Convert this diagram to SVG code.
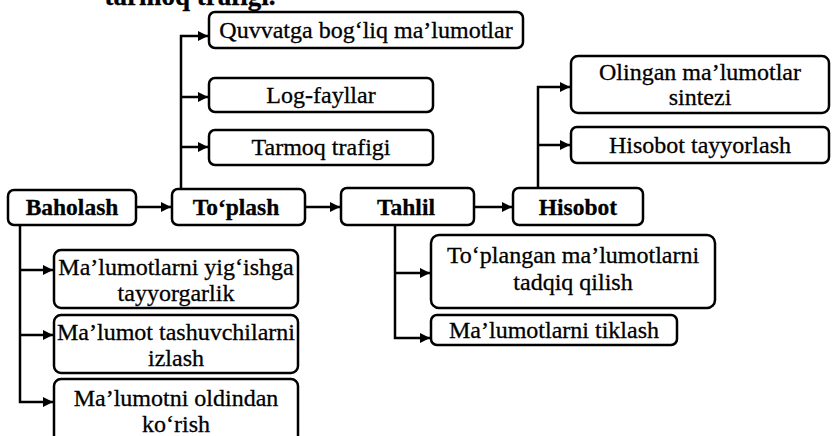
<svg xmlns="http://www.w3.org/2000/svg" width="832" height="436" viewBox="0 0 832 436">
  <style>
    .box { fill: #fff; stroke: #000; stroke-width: 2.5; }
    .t { font-family: "Liberation Serif", "Times New Roman", serif; font-size: 24px; fill: #000; stroke: #000; stroke-width: 0.3; text-anchor: middle; }
    .b { font-weight: bold; font-size: 23.5px; }
    .edge { fill: none; stroke: #000; stroke-width: 2.5; }
  </style>
  <defs>
    <marker id="arr" viewBox="0 0 10 10" refX="10" refY="5" markerWidth="4.2" markerHeight="4" orient="auto" markerUnits="strokeWidth">
      <path d="M0,0 L10,5 L0,10 z" fill="#000"/>
    </marker>
  </defs>
  <rect width="832" height="436" fill="#fff"/>

  <!-- heading line running off the top edge -->
  <text class="t b" x="190" y="5" style="font-size:27px">tarmoq trafigi.</text>

  <g id="connectors">
    <!-- main chain -->
    <path class="edge" d="M136,207 H171" marker-end="url(#arr)"/>
    <path class="edge" d="M305,207 H340" marker-end="url(#arr)"/>
    <path class="edge" d="M474,207 H512" marker-end="url(#arr)"/>
    <!-- To'plash branch -->
    <path class="edge" d="M181,190 V36 H208" marker-end="url(#arr)"/>
    <path class="edge" d="M181,97 H208" marker-end="url(#arr)"/>
    <path class="edge" d="M181,147 H208" marker-end="url(#arr)"/>
    <!-- Hisobot branch -->
    <path class="edge" d="M538,188 V87 H570" marker-end="url(#arr)"/>
    <path class="edge" d="M538,145 H570" marker-end="url(#arr)"/>
    <!-- Baholash branch -->
    <path class="edge" d="M20,225 V402 H53" marker-end="url(#arr)"/>
    <path class="edge" d="M20,270 H53" marker-end="url(#arr)"/>
    <path class="edge" d="M20,335 H53" marker-end="url(#arr)"/>
    <!-- Tahlil branch -->
    <path class="edge" d="M395,225 V338 H430" marker-end="url(#arr)"/>
    <path class="edge" d="M395,273 H430" marker-end="url(#arr)"/>
  </g>

  <g id="baholash">
    <rect class="box" x="8" y="190" width="128" height="35" rx="6"/>
    <text class="t b" x="72" y="215">Baholash</text>
  </g>
  <g id="toplash">
    <rect class="box" x="172" y="189" width="133" height="36" rx="6"/>
    <text class="t b" x="236" y="215">To‘plash</text>
  </g>
  <g id="tahlil">
    <rect class="box" x="341" y="188" width="133" height="37" rx="6"/>
    <text class="t b" x="406" y="215">Tahlil</text>
  </g>
  <g id="hisobot">
    <rect class="box" x="513" y="188" width="130" height="37" rx="6"/>
    <text class="t b" x="578" y="215">Hisobot</text>
  </g>

  <g id="quvvat">
    <rect class="box" x="209" y="12" width="314" height="36" rx="6"/>
    <text class="t" x="366" y="38">Quvvatga bog‘liq ma’lumotlar</text>
  </g>
  <g id="log">
    <rect class="box" x="209" y="78" width="224" height="34" rx="6"/>
    <text class="t" x="321" y="103">Log-fayllar</text>
  </g>
  <g id="trafik">
    <rect class="box" x="209" y="130" width="224" height="35" rx="6"/>
    <text class="t" x="321" y="155">Tarmoq trafigi</text>
  </g>

  <g id="sintez">
    <rect class="box" x="571" y="56" width="258" height="57" rx="7"/>
    <text class="t" x="700" y="80">Olingan ma’lumotlar</text>
    <text class="t" x="700" y="105">sintezi</text>
  </g>
  <g id="hisobot-tayyor">
    <rect class="box" x="571" y="127" width="258" height="36" rx="6"/>
    <text class="t" x="700" y="153">Hisobot tayyorlash</text>
  </g>

  <g id="yigish">
    <rect class="box" x="54" y="250" width="244" height="58" rx="7"/>
    <text class="t" x="176" y="275">Ma’lumotlarni yig‘ishga</text>
    <text class="t" x="176" y="301">tayyorgarlik</text>
  </g>
  <g id="tashuvchi">
    <rect class="box" x="54" y="315" width="244" height="58" rx="7"/>
    <text class="t" x="176" y="340">Ma’lumot tashuvchilarni</text>
    <text class="t" x="176" y="366">izlash</text>
  </g>
  <g id="oldindan">
    <rect class="box" x="54" y="379" width="244" height="64" rx="7"/>
    <text class="t" x="176" y="406">Ma’lumotni oldindan</text>
    <text class="t" x="176" y="432">ko‘rish</text>
  </g>

  <g id="tadqiq">
    <rect class="box" x="431" y="235" width="284" height="73" rx="8"/>
    <text class="t" x="573" y="263">To‘plangan ma’lumotlarni</text>
    <text class="t" x="573" y="290">tadqiq qilish</text>
  </g>
  <g id="tiklash">
    <rect class="box" x="431" y="315" width="246" height="30" rx="6"/>
    <text class="t" x="554" y="338">Ma’lumotlarni tiklash</text>
  </g>
</svg>
